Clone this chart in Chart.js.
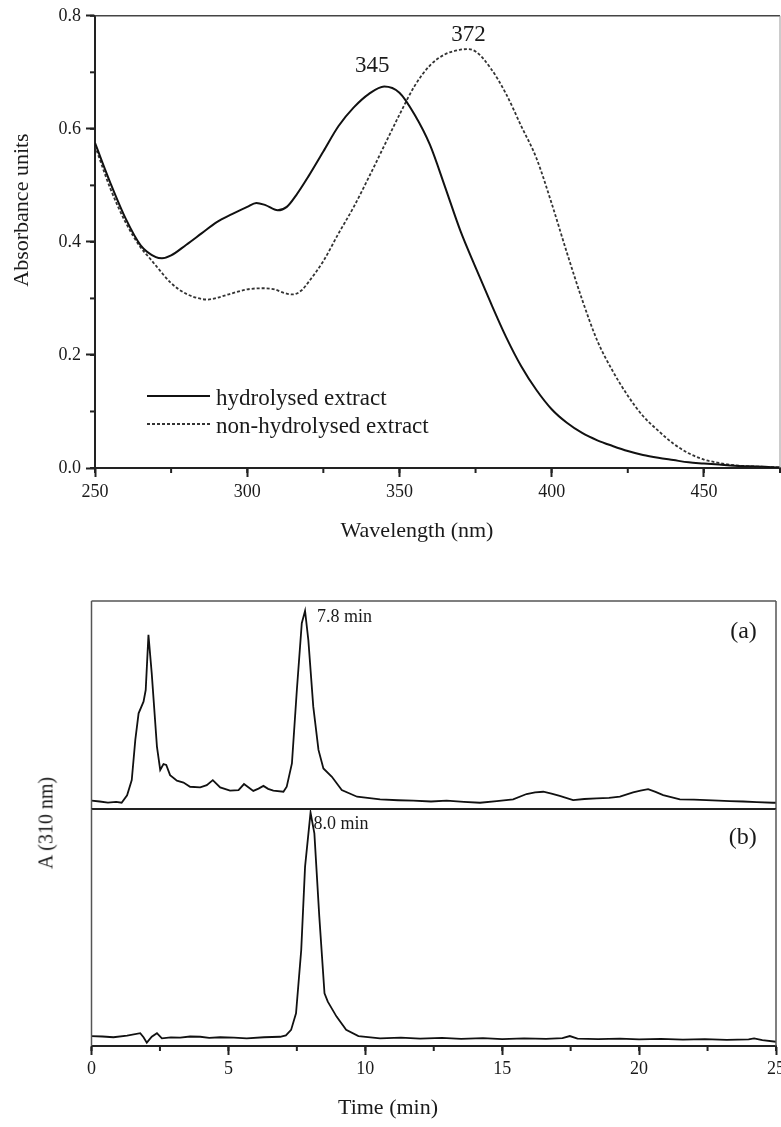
<!DOCTYPE html>
<html lang="en">
<head>
<meta charset="UTF-8">
<title>UV spectra and HPLC chromatograms</title>
<script src="https://cdn.jsdelivr.net/npm/chart.js"></script>
<style>
  body { margin: 0; background: #fff; width: 781px; height: 1127px; overflow: hidden; position: relative; }
  canvas { position: absolute; left: 0; }
  #spectra { top: 0; }
  #hplcA { top: 560px; }
  #hplcB { top: 800px; }
  #hplcYTitle {
    position: absolute; left: 46px; top: 823px;
    transform: translate(-50%, -50%) rotate(-90deg);
    font: 20px 'Liberation Serif', serif; color: #1a1a1a; white-space: nowrap;
  }
</style>
</head>
<body>
<canvas id="spectra" width="781" height="560"></canvas>
<canvas id="hplcA" width="800" height="250"></canvas>
<canvas id="hplcB" width="800" height="327"></canvas>
<div id="hplcYTitle">A (310 nm)</div>

<script>
// UV spectra (absorbance units vs wavelength, nm)
const wavelengthHyd = [250,255,260,265,270,272,275,280,285,290,295,300,303,306,310,313,316,320,325,330,335,340,345,350,355,360,365,370,375,380,385,390,395,400,405,410,415,420,425,430,435,440,445,450,455,460,465,470,475];
const absHyd = [0.575,0.505,0.442,0.394,0.373,0.371,0.376,0.395,0.415,0.435,0.449,0.462,0.469,0.465,0.456,0.462,0.482,0.515,0.560,0.605,0.638,0.662,0.675,0.664,0.625,0.572,0.497,0.420,0.355,0.292,0.232,0.180,0.138,0.104,0.080,0.062,0.049,0.039,0.030,0.023,0.018,0.014,0.010,0.008,0.006,0.004,0.003,0.002,0.001];
const wavelengthNon = [250,255,260,265,268,270,275,280,285,287,290,295,300,305,309,312,315,318,320,325,330,335,340,345,350,355,360,365,370,372,375,380,385,390,395,400,405,410,415,420,425,430,435,440,445,450,455,460,465,470,475];
const absNon = [0.570,0.495,0.435,0.390,0.371,0.358,0.327,0.308,0.299,0.298,0.301,0.309,0.316,0.318,0.316,0.310,0.307,0.315,0.328,0.366,0.415,0.462,0.515,0.570,0.625,0.676,0.712,0.732,0.740,0.741,0.737,0.707,0.662,0.605,0.548,0.468,0.381,0.298,0.225,0.172,0.128,0.092,0.066,0.043,0.026,0.015,0.009,0.005,0.003,0.002,0.001];
const spectraLabels = ['hydrolysed extract', 'non-hydrolysed extract'];
const peakHyd = 345;
const peakNon = 372;

// HPLC traces at 310 nm (relative response, each panel scaled 0..1)
const timeA = [0,0.3,0.6,0.9,1.1,1.3,1.47,1.6,1.72,1.9,1.98,2.08,2.2,2.39,2.51,2.63,2.73,2.87,3.12,3.36,3.6,3.97,4.21,4.43,4.7,5.06,5.37,5.57,5.91,6.1,6.28,6.45,6.64,7.01,7.13,7.32,7.5,7.68,7.8,7.92,8.1,8.29,8.47,8.78,9.14,9.7,10.54,11.2,11.75,12.4,12.97,13.6,14.19,14.8,15.4,15.89,16.2,16.5,16.8,17.1,17.59,18.0,18.45,18.9,19.3,19.78,20.05,20.33,20.6,20.88,21.49,22.0,22.46,22.9,23.31,23.8,24.3,24.89,25];
const signalA = [0.040,0.036,0.031,0.034,0.030,0.066,0.139,0.332,0.460,0.516,0.572,0.837,0.652,0.300,0.188,0.216,0.212,0.163,0.136,0.127,0.107,0.104,0.115,0.139,0.104,0.088,0.091,0.120,0.087,0.098,0.111,0.097,0.088,0.083,0.107,0.219,0.572,0.893,0.953,0.812,0.492,0.284,0.195,0.155,0.091,0.059,0.046,0.042,0.040,0.036,0.040,0.034,0.030,0.038,0.046,0.072,0.080,0.083,0.074,0.063,0.043,0.048,0.051,0.053,0.059,0.080,0.088,0.095,0.082,0.067,0.046,0.045,0.043,0.040,0.038,0.036,0.033,0.030,0.030];
const timeB = [0,0.4,0.8,1.3,1.78,1.9,2.02,2.2,2.39,2.57,2.9,3.24,3.6,3.97,4.3,4.7,5.2,5.67,6.3,6.89,7.1,7.29,7.47,7.66,7.8,8.0,8.14,8.32,8.51,8.63,8.95,9.3,9.75,10.54,11.3,12.0,12.8,13.5,14.3,15.0,15.8,16.6,17.2,17.47,17.75,18.5,19.3,20.0,20.8,21.6,22.4,23.2,24.0,24.2,24.5,25];
const signalB = [0.042,0.040,0.037,0.044,0.054,0.037,0.014,0.039,0.054,0.032,0.036,0.035,0.040,0.039,0.034,0.037,0.035,0.032,0.037,0.039,0.045,0.068,0.138,0.405,0.757,0.985,0.897,0.546,0.222,0.187,0.124,0.068,0.042,0.032,0.035,0.031,0.034,0.030,0.033,0.029,0.032,0.030,0.033,0.042,0.031,0.029,0.031,0.028,0.030,0.027,0.029,0.026,0.028,0.032,0.025,0.018];
const retentionA = 7.8;
const retentionB = 8.0;
const panelNames = ['(a)', '(b)'];

const serif = "'Liberation Serif', 'Times New Roman', serif";
const ink = '#1a1a1a';

function points(xs, ys) {
  return xs.map((x, i) => ({ x, y: ys[i] }));
}
function valueAt(xs, ys, x) {
  return ys[xs.indexOf(x)];
}

// short ticks between the labelled ones
function minorTicks(list) {
  return {
    id: 'minorTicks',
    afterDraw(chart) {
      const ctx = chart.ctx;
      ctx.save();
      ctx.strokeStyle = '#222';
      ctx.lineWidth = 2;
      list.forEach(m => {
        const s = chart.scales[m.axis];
        const n = Math.round((s.max - s.min) / m.step);
        for (let i = 0; i <= n; i++) {
          const p = s.getPixelForValue(s.min + i * m.step);
          ctx.beginPath();
          if (s.isHorizontal()) {
            ctx.moveTo(p, s.top);
            ctx.lineTo(p, s.top + m.len);
          } else {
            ctx.moveTo(s.right, p);
            ctx.lineTo(s.right - m.len, p);
          }
          ctx.stroke();
        }
      });
      ctx.restore();
    }
  };
}

// box edges not covered by an axis line
function frame(sides) {
  return {
    id: 'frame',
    afterDraw(chart) {
      const { ctx, chartArea: a } = chart;
      ctx.save();
      const seg = (s, x1, y1, x2, y2) => {
        if (!s) return;
        ctx.strokeStyle = s.c;
        ctx.lineWidth = s.w;
        ctx.beginPath();
        ctx.moveTo(x1, y1);
        ctx.lineTo(x2, y2);
        ctx.stroke();
      };
      seg(sides.top, a.left, a.top, a.right, a.top);
      seg(sides.right, a.right, a.top, a.right, a.bottom);
      seg(sides.bottom, a.left, a.bottom, a.right, a.bottom);
      seg(sides.left, a.left, a.top, a.left, a.bottom);
      ctx.restore();
    }
  };
}

// text placed at data coordinates
function dataLabels(items) {
  return {
    id: 'dataLabels',
    afterDatasetsDraw(chart) {
      const { ctx, scales } = chart;
      ctx.save();
      ctx.fillStyle = ink;
      ctx.textBaseline = 'middle';
      items.forEach(l => {
        ctx.font = l.size + 'px ' + serif;
        ctx.textAlign = l.align || 'center';
        ctx.fillText(l.text, scales.x.getPixelForValue(l.x) + (l.dx || 0), scales.y.getPixelForValue(l.y) + (l.dy || 0));
      });
      ctx.restore();
    }
  };
}

// axis titles at fixed canvas positions
function axisTitles(items) {
  return {
    id: 'axisTitles',
    afterDraw(chart) {
      const ctx = chart.ctx;
      items.forEach(t => {
        ctx.save();
        ctx.fillStyle = ink;
        ctx.font = t.size + 'px ' + serif;
        ctx.textAlign = 'center';
        ctx.textBaseline = 'middle';
        ctx.translate(t.x, t.y);
        if (t.rotate) ctx.rotate(-Math.PI / 2);
        ctx.fillText(t.text, 0, 0);
        ctx.restore();
      });
    }
  };
}

// legend drawn inside the plot, lower left
const insideLegend = {
  id: 'insideLegend',
  afterDatasetsDraw(chart) {
    const { ctx, chartArea: a } = chart;
    ctx.save();
    ctx.font = '23px ' + serif;
    ctx.fillStyle = ink;
    ctx.textAlign = 'left';
    ctx.textBaseline = 'alphabetic';
    chart.data.datasets.forEach((ds, i) => {
      const y = a.bottom - 72 + i * 28;
      ctx.strokeStyle = ds.borderColor;
      ctx.lineWidth = ds.borderWidth;
      ctx.setLineDash(ds.borderDash || []);
      ctx.beginPath();
      ctx.moveTo(a.left + 52, y);
      ctx.lineTo(a.left + 115, y);
      ctx.stroke();
      ctx.fillText(ds.label, a.left + 121, y + 9);
    });
    ctx.restore();
  }
};

const tickFont = { family: serif, size: 18 };
const axisGrid = { drawOnChartArea: false, tickLength: 9, tickWidth: 2, color: '#222', tickColor: '#222' };
const axisBorder = { color: '#222', width: 2 };

new Chart(document.getElementById('spectra'), {
  type: 'line',
  data: {
    datasets: [
      {
        label: spectraLabels[0],
        data: points(wavelengthHyd, absHyd),
        borderColor: '#111',
        borderWidth: 2,
        pointRadius: 0,
        cubicInterpolationMode: 'monotone'
      },
      {
        label: spectraLabels[1],
        data: points(wavelengthNon, absNon),
        borderColor: '#333',
        borderWidth: 1.8,
        borderDash: [3, 2],
        pointRadius: 0,
        cubicInterpolationMode: 'monotone'
      }
    ]
  },
  options: {
    responsive: false,
    animation: false,
    events: [],
    layout: { padding: { top: 12.5, right: 1, bottom: 0, left: 0 } },
    plugins: { legend: { display: false }, tooltip: { enabled: false } },
    scales: {
      x: {
        type: 'linear', min: 250, max: 475,
        ticks: { stepSize: 50, includeBounds: false, padding: 4, font: tickFont, color: ink, maxRotation: 0 },
        grid: axisGrid, border: axisBorder,
        afterFit: s => { s.height = 92; }
      },
      y: {
        min: 0, max: 0.8,
        ticks: { stepSize: 0.2, padding: 5, font: tickFont, color: ink, callback: v => v.toFixed(1) },
        grid: axisGrid, border: axisBorder,
        afterFit: s => { s.width = 95; }
      }
    }
  },
  plugins: [
    frame({ top: { w: 1.5, c: '#444' }, right: { w: 1, c: '#999' } }),
    minorTicks([{ axis: 'x', step: 25, len: 5 }, { axis: 'y', step: 0.1, len: 5 }]),
    dataLabels([
      { text: String(peakHyd), x: peakHyd, y: valueAt(wavelengthHyd, absHyd, peakHyd), dx: -12, dy: -21, size: 23 },
      { text: String(peakNon), x: peakNon, y: valueAt(wavelengthNon, absNon, peakNon), dx: 2, dy: -14, size: 23 }
    ]),
    insideLegend,
    axisTitles([
      { text: 'Absorbance units', x: 22, y: 210, size: 22, rotate: true },
      { text: 'Wavelength (nm)', x: 417, y: 531, size: 22 }
    ])
  ]
});

const traceStyle = { borderColor: '#111', borderWidth: 1.8, pointRadius: 0, tension: 0 };

new Chart(document.getElementById('hplcA'), {
  type: 'line',
  data: { datasets: [{ label: 'hydrolysed', data: points(timeA, signalA), ...traceStyle }] },
  options: {
    responsive: false,
    animation: false,
    events: [],
    layout: { padding: { top: 41, right: 24, bottom: 1, left: 91.5 } },
    plugins: { legend: { display: false }, tooltip: { enabled: false } },
    scales: {
      x: { type: 'linear', min: 0, max: 25, display: false },
      y: { min: 0, max: 1, display: false }
    }
  },
  plugins: [
    frame({ top: { w: 1.5, c: '#555' }, right: { w: 1.5, c: '#555' }, bottom: { w: 2, c: '#222' }, left: { w: 1.5, c: '#555' } }),
    dataLabels([
      { text: retentionA.toFixed(1) + ' min', x: retentionA, y: valueAt(timeA, signalA, retentionA), dx: 12, dy: 6, align: 'left', size: 18 },
      { text: panelNames[0], x: 24.3, y: 0.85, align: 'right', size: 24 }
    ])
  ]
});

new Chart(document.getElementById('hplcB'), {
  type: 'line',
  data: { datasets: [{ label: 'standard', data: points(timeB, signalB), ...traceStyle }] },
  options: {
    responsive: false,
    animation: false,
    events: [],
    layout: { padding: { top: 9, right: 24, bottom: 0, left: 91.5 } },
    plugins: { legend: { display: false }, tooltip: { enabled: false } },
    scales: {
      x: {
        type: 'linear', min: 0, max: 25,
        ticks: { stepSize: 5, padding: 3.5, font: tickFont, color: ink, maxRotation: 0 },
        grid: axisGrid, border: axisBorder,
        afterFit: s => { s.height = 81; }
      },
      y: { min: 0, max: 1, display: false }
    }
  },
  plugins: [
    frame({ top: { w: 2, c: '#222' }, right: { w: 1.5, c: '#555' }, left: { w: 1.5, c: '#555' } }),
    minorTicks([{ axis: 'x', step: 2.5, len: 5 }]),
    dataLabels([
      { text: retentionB.toFixed(1) + ' min', x: retentionB, y: valueAt(timeB, signalB, retentionB), dx: 3, dy: 12, align: 'left', size: 18 },
      { text: panelNames[1], x: 24.3, y: 0.88, align: 'right', size: 24 }
    ]),
    axisTitles([{ text: 'Time (min)', x: 388, y: 308, size: 22 }])
  ]
});
</script>
</body>
</html>
